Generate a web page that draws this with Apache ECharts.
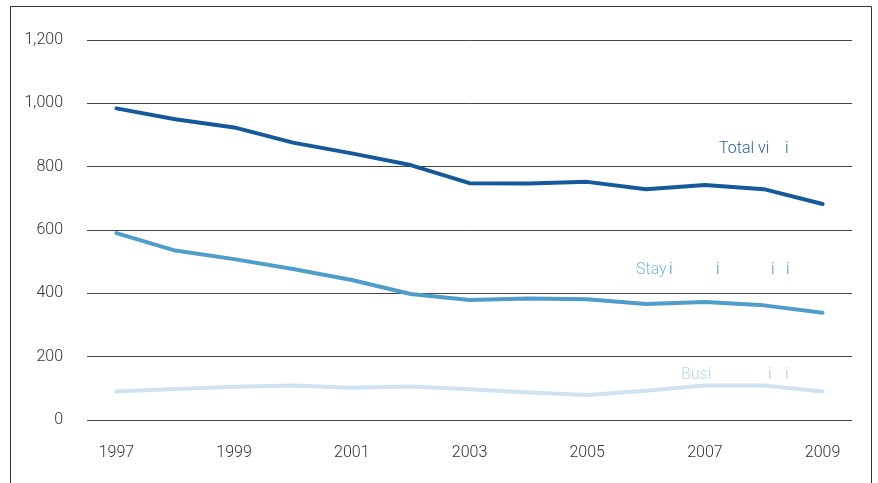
<!DOCTYPE html>
<html>
<head>
<meta charset="utf-8">
<script src="https://cdn.jsdelivr.net/npm/echarts@6/dist/echarts.min.js"></script>
<style>
html,body{margin:0;padding:0;background:#fff;}
#c{width:878px;height:483px;}
</style>
</head>
<body>
<div id="c"></div>
<script>
var years = ['1997','1998','1999','2000','2001','2002','2003','2004','2005','2006','2007','2008','2009'];
var totalVisits = [984, 950, 924, 876, 842, 805, 748, 747, 752, 729, 742, 729, 682];
var stayVisits = [590, 535, 508, 477, 442, 398, 379, 384, 381, 366, 373, 362, 339];
var businessVisits = [90, 98, 105, 109, 102, 106, 97, 87, 79, 92, 109, 109, 90];
var yTicks = [0, 200, 400, 600, 800, 1000, 1200];

var FONT = 'Roboto';
function txt(x, y, s, color) {
  return {type:'text', left:x, top:y - 6, style:{text:s, fill:color, font:'300 16px ' + FONT, textVerticalAlign:'top'}};
}

var chart = echarts.init(document.getElementById('c'), null, {renderer:'canvas'});
chart.setOption({
  animation:false,
  backgroundColor:'#fff',
  grid:{left:87, right:26, top:40, bottom:63, containLabel:false},
  xAxis:{
    type:'category', data:years, boundaryGap:true,
    axisLine:{show:false}, axisTick:{show:false},
    axisLabel:{interval:1, color:'#333', fontFamily:FONT, fontWeight:300, fontSize:16, margin:25}
  },
  yAxis:{
    type:'value', min:yTicks[0], max:yTicks[yTicks.length-1], interval:200,
    axisLine:{show:false}, axisTick:{show:false},
    axisLabel:{color:'#333', fontFamily:FONT, fontWeight:300, fontSize:16, margin:24,
      formatter:function(v){return v.toLocaleString('en-US');}},
    splitLine:{lineStyle:{color:'#444', width:1}}
  },
  series:[
    {name:'Total visits', type:'line', data:totalVisits, symbol:'none', lineStyle:{color:'#16599b', width:4, cap:'round', join:'round'}},
    {name:'Staying visits', type:'line', data:stayVisits, symbol:'none', lineStyle:{color:'#4f9dcb', width:4, cap:'round', join:'round'}},
    {name:'Business visits', type:'line', data:businessVisits, symbol:'none', lineStyle:{color:'#cfe2f1', width:4, cap:'round', join:'round'}}
  ],
  graphic:[
    {type:'rect', shape:{x:10.5, y:6.5, width:861, height:500}, style:{fill:'none', stroke:'#333', lineWidth:1}, silent:true},
    txt(719, 147, 'Total vi', '#2d629c'),
    txt(785, 147, 'i', '#2d629c'),
    txt(636, 268, 'Stay', '#7ab6dd'),
    txt(669, 268, 'i', '#4a93c6'),
    txt(716, 268, 'i', '#4a93c6'),
    txt(771, 268, 'i', '#4a93c6'),
    txt(786, 268, 'i', '#4a93c6'),
    txt(681, 373, 'Busi', '#b8d7ec'),
    txt(768, 373, 'i', '#a9cde6'),
    txt(785, 373, 'i', '#a9cde6')
  ]
});
</script>
</body>
</html>
